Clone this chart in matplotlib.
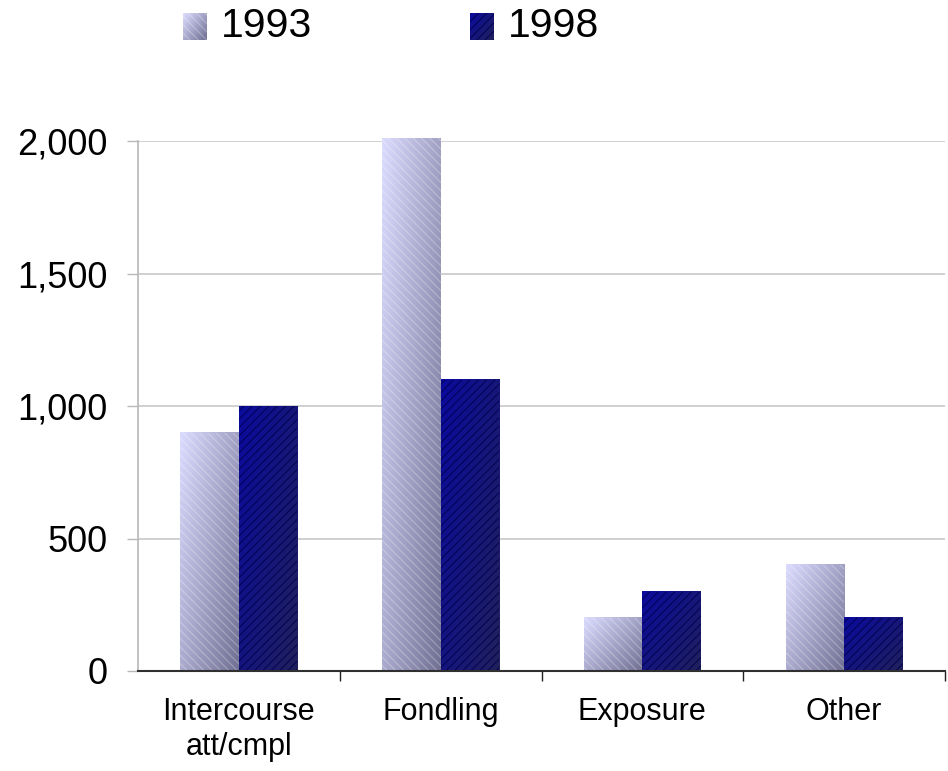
import numpy as np
import matplotlib
matplotlib.use("Agg")
import matplotlib.pyplot as plt
from matplotlib.patches import Rectangle

plt.rcParams['font.family'] = ['Liberation Sans', 'DejaVu Sans']
plt.rcParams['hatch.linewidth'] = 0.8

categories = ["Intercourse\natt/cmpl", "Fondling", "Exposure", "Other"]
series_names = ["1993", "1998"]
values_1993 = [900, 2010, 200, 400]
values_1998 = [1000, 1100, 300, 200]
yticks = [0, 500, 1000, 1500, 2000]
ytick_labels = ["0", "500", "1,000", "1,500", "2,000"]

c0_93, c1_93 = np.array([0.86, 0.86, 1.0]), np.array([0.44, 0.44, 0.58])
c0_98, c1_98 = np.array([0.04, 0.04, 0.62]), np.array([0.13, 0.13, 0.36])


def grad(c0, c1, nx=60, ny=200):
    u = np.linspace(0, 1, nx)[None, :]
    v = np.linspace(0, 1, ny)[:, None]
    t = 0.55 * u + 0.45 * v
    return c0[None, None, :] * (1 - t[..., None]) + c1[None, None, :] * t[..., None]


fig = plt.figure(figsize=(9.48, 7.71), dpi=100)
fig.patch.set_facecolor('white')
ax = fig.add_axes([138 / 948, 1 - 671 / 771, (945 - 138) / 948, (671 - 141) / 771])

x = np.arange(len(categories))
w = 0.29
for vals, off, c0, c1, hatch, hcol in [
        (values_1993, -w / 2, c0_93, c1_93, '\\\\\\\\', (1, 1, 1, 0.28)),
        (values_1998, w / 2, c0_98, c1_98, '////', (0.0, 0.0, 0.3, 0.8))]:
    bars = ax.bar(x + off, vals, width=w, color='none', edgecolor=hcol,
                  hatch=hatch, linewidth=0, zorder=3, clip_on=False)
    for b in bars:
        x0, y0 = b.get_x(), b.get_y()
        bw, bh = b.get_width(), b.get_height()
        ny = max(int(bh / 5), 20)
        ax.imshow(grad(c0, c1, ny=ny), extent=[x0, x0 + bw, y0, y0 + bh],
                  aspect='auto', zorder=2, clip_on=False, interpolation='bilinear')

ax.set_xlim(-0.5, len(categories) - 0.5)
ax.set_ylim(0, 2000)
ax.set_yticks(yticks)
ax.set_yticklabels(ytick_labels, fontsize=26)
ax.set_xticks(x)
ax.set_xticklabels(categories, fontsize=22, linespacing=1.2)
ax.set_xticks(np.arange(len(categories)) + 0.5, minor=True)
ax.tick_params(axis='x', which='major', length=0, pad=19)
ax.tick_params(axis='x', which='minor', length=7, width=1, color='#202020', direction='out')
ax.tick_params(axis='y', length=8, width=1, color='#b8b8b8', pad=14)
ax.yaxis.grid(True, color='#c8c8c8', linewidth=1.2, zorder=0)
ax.set_axisbelow(True)
for s in ['top', 'right']:
    ax.spines[s].set_visible(False)
ax.spines['left'].set_color('#b8b8b8')
ax.spines['left'].set_linewidth(1.2)
ax.spines['bottom'].set_color('#303030')
ax.spines['bottom'].set_linewidth(1.5)
ax.spines['bottom'].set_zorder(4)

# legend
for (lx, name, c0, c1, hatch, hcol) in [
        (183, series_names[0], c0_93, c1_93, '\\\\\\\\', (1, 1, 1, 0.28)),
        (470, series_names[1], c0_98, c1_98, '////', (0.0, 0.0, 0.3, 0.8))]:
    lax = fig.add_axes([lx / 948, 1 - 40 / 771, 24 / 948, 27 / 771])
    lax.imshow(grad(c0, c1, nx=20, ny=20), extent=[0, 1, 0, 1], aspect='auto')
    lax.add_patch(Rectangle((0, 0), 1, 1, facecolor='none', edgecolor=hcol,
                            hatch=hatch, linewidth=0))
    lax.set_xlim(0, 1)
    lax.set_ylim(0, 1)
    lax.axis('off')
    fig.text((lx + 38) / 948, 1 - 26 / 771, name, fontsize=29.5, va='center', ha='left')

fig.savefig('out.png', dpi=100)
